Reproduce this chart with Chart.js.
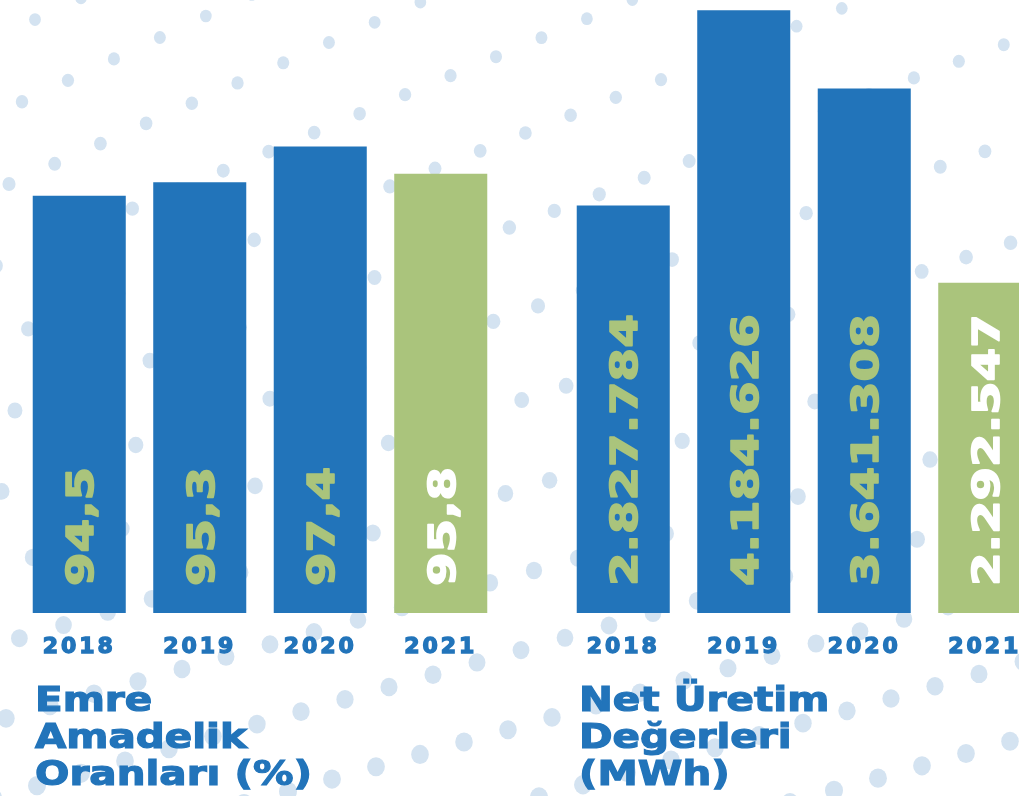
<!DOCTYPE html>
<html>
<head>
<meta charset="utf-8">
<script src="https://cdn.jsdelivr.net/npm/chart.js@4.4.0/dist/chart.umd.min.js"></script>
<style>
html, body { margin: 0; padding: 0; background: #fff; }
body { width: 1019px; height: 796px; overflow: hidden; position: relative; }
#dots { position: absolute; left: 0; top: 0; }
.wrap { position: absolute; top: 0; width: 482px; height: 670px; }
.title {
    position: absolute; top: 681px;
    font-family: 'DejaVu Sans'; font-weight: bold; font-size: 34px; line-height: 37px;
    color: #2274ba; white-space: nowrap;
    -webkit-text-stroke: 1.2px #2274ba;
    transform: scaleX(1.19); transform-origin: 0 0;
}
</style>
</head>
<body>
<canvas id="dots" width="1019" height="796"></canvas>
<div class="wrap" style="left:19px"><canvas id="availChart" width="482" height="670"></canvas></div>
<div class="wrap" style="left:563px"><canvas id="prodChart" width="482" height="670"></canvas></div>
<div class="title" style="left:35px">Emre<br>Amadelik<br>Oranları (%)</div>
<div class="title" style="left:579px">Net Üretim<br>Değerleri<br>(MWh)</div>
<script>
// data
const years = ['2018', '2019', '2020', '2021'];
const availability = [94.5, 95.3, 97.4, 95.8];
const production = [2827784, 4184626, 3641308, 2292547];

const BLUE = '#2274ba';
const GREEN = '#aac47c';
const DOT = '#d4e3f1';

const barColors = [BLUE, BLUE, BLUE, GREEN];
const labelColors = [GREEN, GREEN, GREEN, '#ffffff'];

// turkish style numbers: 94,5 and 2.827.784
function trDecimal(v) {
    return v.toFixed(1).replace('.', ',');
}
function trThousands(v) {
    return String(Math.round(v)).replace(/\B(?=(\d{3})+(?!\d))/g, '.');
}

// background dot pattern
const dc = document.getElementById('dots').getContext('2d');
dc.fillStyle = DOT;
for (let k = -8; k < 16; k++) {
    const c = 36 + 76 * k;
    const t = Math.min(1, Math.max(0, (c - 100) / 600));
    const slope = 0.47 - 0.19 * t;
    const step = 46 - 2 * t;
    const phase = (((35 - 13 * k) % step) + step) % step;
    for (let x = phase - step; x < 1060; x += step) {
        const y = c - slope * x;
        if (y < -20 || y > 820) continue;
        const r = 5.8 + 3.2 * Math.min(1, Math.max(0, y / 796));
        dc.beginPath();
        dc.ellipse(x, y, r, r * 1.08, 0, 0, Math.PI * 2);
        dc.fill();
    }
}

// letter spacing for the wide tick labels
const tickSpacing = {
    id: 'tickSpacing',
    beforeDraw(chart) {
        chart.ctx.letterSpacing = '3px';
    }
};

// rotated value labels inside the bars
const valueLabels = {
    id: 'valueLabels',
    afterDatasetsDraw(chart, args, opts) {
        const ctx = chart.ctx;
        const meta = chart.getDatasetMeta(0);
        const size = 38;
        ctx.save();
        ctx.letterSpacing = '0px';
        ctx.font = 'bold ' + size + 'px "DejaVu Sans"';
        ctx.textAlign = 'left';
        ctx.textBaseline = 'alphabetic';
        ctx.lineJoin = 'round';
        ctx.lineWidth = 1.6;
        meta.data.forEach((bar, i) => {
            ctx.save();
            ctx.translate(bar.x, chart.chartArea.bottom - 27);
            ctx.rotate(-Math.PI / 2);
            ctx.scale(1.27, 1);
            ctx.fillStyle = opts.colors[i];
            ctx.strokeStyle = opts.colors[i];
            ctx.fillText(opts.labels[i], 0, 0.729 * size / 2);
            ctx.strokeText(opts.labels[i], 0, 0.729 * size / 2);
            ctx.restore();
        });
        ctx.restore();
    }
};

function makeChart(id, values, labels, yMin, yMax) {
    return new Chart(document.getElementById(id), {
        type: 'bar',
        data: {
            labels: years,
            datasets: [{
                data: values,
                backgroundColor: barColors,
                borderWidth: 0,
                barPercentage: 0.772,
                categoryPercentage: 1
            }]
        },
        options: {
            responsive: false,
            animation: false,
            layout: { padding: 0 },
            plugins: {
                legend: { display: false },
                tooltip: { enabled: false },
                valueLabels: { labels: labels, colors: labelColors }
            },
            scales: {
                x: {
                    grid: { display: false, drawTicks: false },
                    border: { display: false },
                    ticks: {
                        color: BLUE,
                        padding: 21,
                        textStrokeColor: BLUE,
                        textStrokeWidth: 1.4,
                        font: { family: 'DejaVu Sans', weight: 'bold', size: 22 }
                    },
                    afterFit(scale) { scale.height = 57; }
                },
                y: {
                    display: false,
                    min: yMin,
                    max: yMax
                }
            }
        },
        plugins: [tickSpacing, valueLabels]
    });
}

makeChart('availChart', availability, availability.map(trDecimal), 70, 106);
makeChart('prodChart', production, production.map(trThousands), 0, 4255000);
</script>
</body>
</html>
